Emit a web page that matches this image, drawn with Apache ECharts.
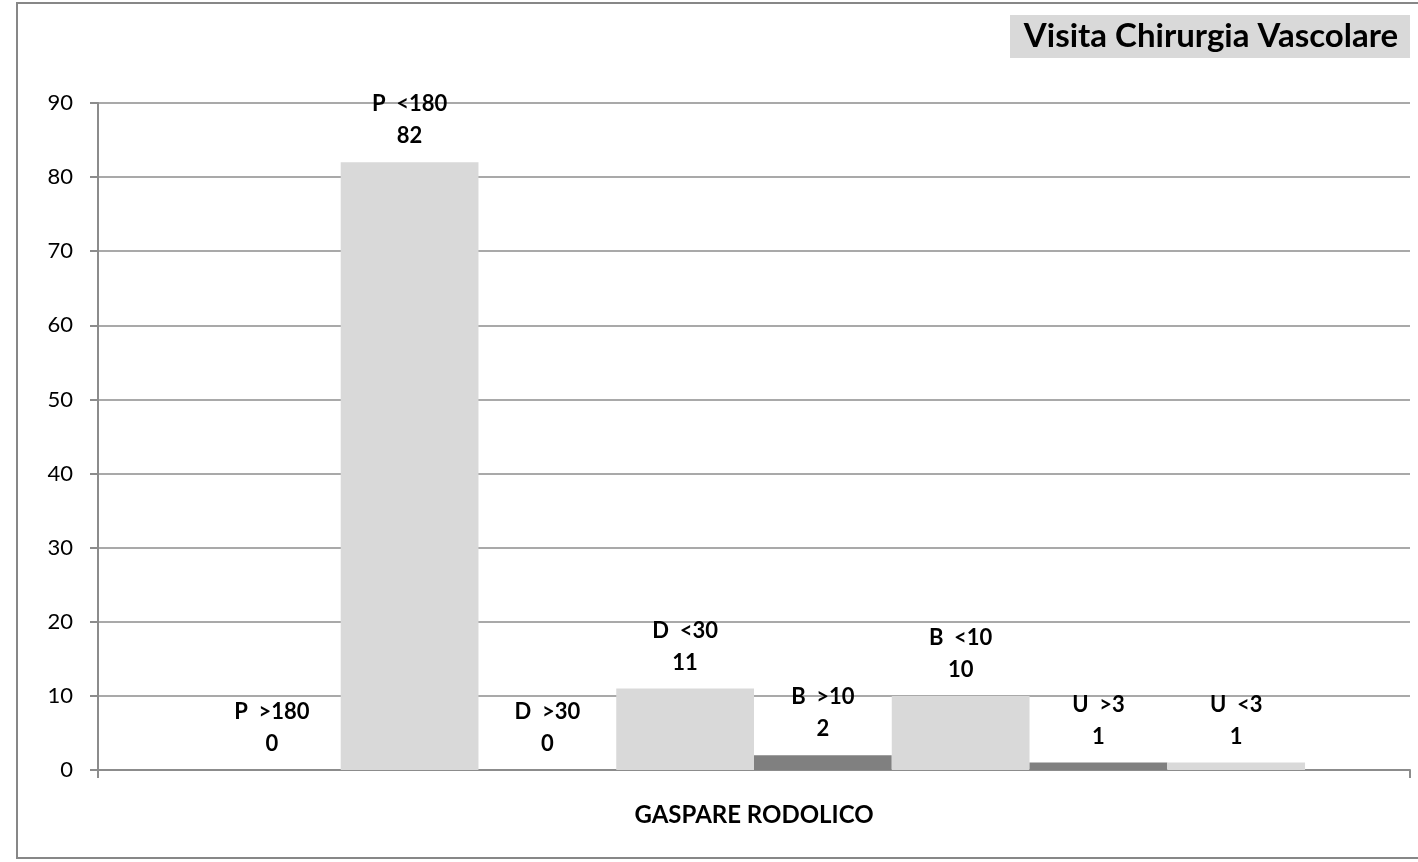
<!DOCTYPE html>
<html>
<head>
<meta charset="utf-8">
<script src="https://cdn.jsdelivr.net/npm/echarts@6/dist/echarts.min.js"></script>
<style>
html,body{margin:0;padding:0;background:#fff;}
#chart{width:1418px;height:862px;}
</style>
</head>
<body>
<div id="chart"></div>
<script>
const categories = ["GASPARE RODOLICO"];
const seriesNames = ["P  >180", "P  <180", "D  >30", "D  <30", "B  >10", "B  <10", "U  >3", "U  <3"];
const seriesValues = [0, 82, 0, 11, 2, 10, 1, 1];
const yTicks = { min: 0, max: 90, interval: 10 };
const chartTitle = "Visita Chirurgia Vascolare";

const DARK = "#808080", LIGHT = "#d9d9d9";
const FONT = "Lato, 'Open Sans', sans-serif";

const chart = echarts.init(document.getElementById('chart'), null, {renderer: 'canvas'});
const series = seriesNames.map((name, i) => ({
  name: name,
  type: 'bar',
  data: [seriesValues[i]],
  barGap: '0%',
  barCategoryGap: '16%',
  itemStyle: { color: i % 2 === 0 ? DARK : LIGHT },
  label: {
    show: true,
    position: 'top',
    distance: 10,
    formatter: p => p.seriesName + '\n' + p.value,
    fontFamily: FONT,
    fontWeight: 'bold',
    fontSize: 22,
    lineHeight: 32,
    color: '#000'
  }
}));

chart.setOption({
  animation: false,
  grid: { left: 98, right: 8, top: 103, bottom: 92, containLabel: false },
  xAxis: {
    type: 'category',
    data: categories,
    axisLine: { lineStyle: { color: '#8c8c8c', width: 2 } },
    axisTick: { show: true, length: 8, lineStyle: { color: '#8c8c8c', width: 2 } },
    axisLabel: { margin: 33, fontFamily: FONT, fontWeight: 'bold', fontSize: 24, color: '#000' }
  },
  yAxis: {
    type: 'value',
    min: yTicks.min, max: yTicks.max, interval: yTicks.interval,
    axisLine: { show: true, lineStyle: { color: '#8c8c8c', width: 2 } },
    axisTick: { show: true, length: 8, lineStyle: { color: '#8c8c8c', width: 2 } },
    splitLine: { lineStyle: { color: '#8c8c8c', width: 1.5 } },
    axisLabel: { margin: 25, fontFamily: FONT, fontSize: 22, color: '#000' }
  },
  series: series,
  graphic: [
    { type: 'rect', shape: { x: 17, y: 3, width: 1420, height: 855 }, style: { fill: 'none', stroke: '#878787', lineWidth: 2 }, silent: true },
    { type: 'rect', shape: { x: 1010, y: 15, width: 400, height: 43 }, style: { fill: '#d9d9d9' }, silent: true },
    { type: 'text', x: 1211, y: 36.5, style: { text: chartTitle, fill: '#000', font: "bold 33px " + FONT, textAlign: 'center', textVerticalAlign: 'middle' }, silent: true }
  ]
});
</script>
</body>
</html>
